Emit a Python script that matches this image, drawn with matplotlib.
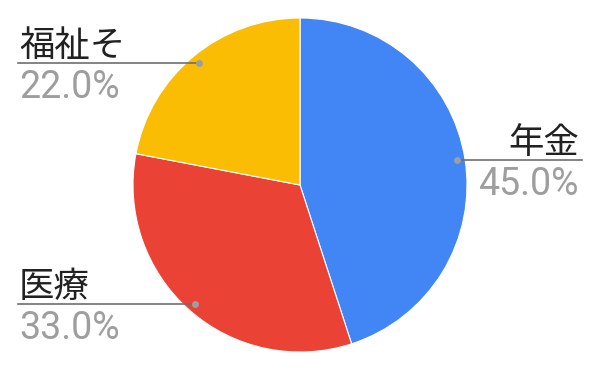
import numpy as np
import matplotlib.pyplot as plt

labels = ["年金", "医療", "福祉そ"]
shares = [45.0, 33.0, 22.0]
colors = ["#4285F4", "#EA4335", "#FBBC04"]

W, H = 600, 371
cx, cy, r = 300, H - 185, 167

fig = plt.figure(figsize=(6, 3.71), dpi=100)
ax = fig.add_axes([0, 0, 1, 1])

wedges, _ = ax.pie(shares, colors=colors, startangle=90, counterclock=False,
                   center=(cx, cy), radius=r, frame=True,
                   wedgeprops=dict(linewidth=0.8, edgecolor="white"))
ax.set_xlim(0, W)
ax.set_ylim(0, H)
ax.set_aspect("equal")
ax.axis("off")

fam = ["Roboto", "Noto Sans CJK JP"]
for w, lab, s in zip(wedges, labels, shares):
    mid = np.deg2rad((w.theta1 + w.theta2) / 2)
    px = cx + 0.95 * r * np.cos(mid)
    py = cy + 0.95 * r * np.sin(mid)
    if np.cos(mid) >= 0:
        x_end, ha, tx = 582, "right", 579
    else:
        x_end, ha, tx = 18, "left", 19
    ax.plot([x_end, px], [py, py], color="#6E6E6E", lw=1.2)
    ax.plot(px, py, "o", color="#9E9E9E", ms=4)
    ax.text(tx, py + 7, lab, ha=ha, va="baseline", fontsize=25.5,
            color="#212121", family=["Noto Sans CJK JP", "DejaVu Sans"])
    ax.text(tx, py - 6, f"{s:.1f}%", ha=ha, va="top", fontsize=27,
            color="#9E9E9E", family=fam)

fig.savefig("out.png", dpi=100)
